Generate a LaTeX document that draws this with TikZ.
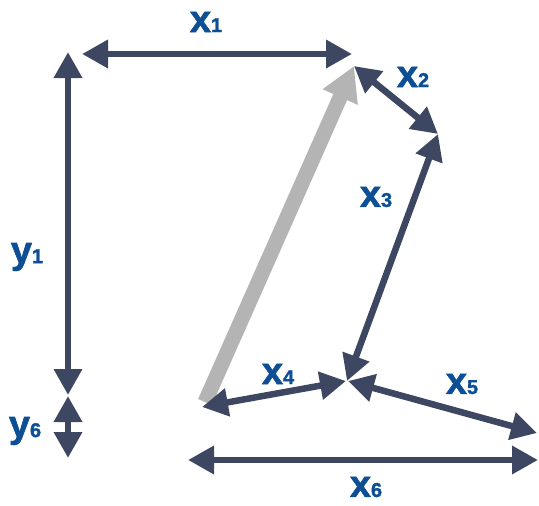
\documentclass[tikz,border=0pt]{standalone}
\usepackage{fontspec}
\setmainfont{Liberation Sans}
\newfontfamily\heavyfont[BoldFeatures={FakeBold=1.6}]{Liberation Sans}
\usetikzlibrary{arrows.meta}
\definecolor{arr}{HTML}{3D4762}
\definecolor{lbl}{HTML}{0D4F94}
\definecolor{gry}{HTML}{B4B4B4}
\newcommand\varlab[2]{{\heavyfont\bfseries\fontsize{38}{38}\selectfont #1}{\heavyfont\bfseries\fontsize{20}{20}\selectfont #2}}
\tikzset{
  dim/.style={draw=arr, line width=6.5pt, {Triangle[length=26pt,width=27pt]}-{Triangle[length=26pt,width=27pt]}},
  big/.style={draw=gry, line width=15pt, -{Triangle[length=34pt,width=36pt]}},
  lab/.style={text=lbl, inner sep=0pt, anchor=center}
}
\begin{document}
\begin{tikzpicture}[x=1pt,y=-1pt]
\useasboundingbox (0,0) rectangle (539,506);
% points
\coordinate (a1) at (82,54);
\coordinate (a2) at (352,54);
\coordinate (b1) at (68,52);
\coordinate (b2) at (68,395);
\coordinate (c1) at (68,396);
\coordinate (c2) at (68,458);
\coordinate (g1) at (205,402);
\coordinate (g2) at (354,66);
\coordinate (p1) at (354,66);
\coordinate (p2) at (438,134);
\coordinate (q1) at (438,134);
\coordinate (q2) at (347,381);
\coordinate (r1) at (202,407);
\coordinate (r2) at (346,381);
\coordinate (s1) at (348,381);
\coordinate (s2) at (537,433);
\coordinate (t1) at (188,460);
\coordinate (t2) at (538,460);
% grey arrow
\draw[big] (g1) -- (g2);
% dimension arrows
\draw[dim] (a1) -- (a2);
\draw[dim] (b1) -- (b2);
\draw[dim] (c1) -- (c2);
\draw[dim] (p1) -- (p2);
\draw[dim] (q1) -- (q2);
\draw[dim] (r1) -- (r2);
\draw[dim] (s1) -- (s2);
\draw[dim] (t1) -- (t2);
% labels
\node[lab] (lx1) at (206,22) {\varlab{x}{1}};
\node[lab] (lx2) at (413,77) {\varlab{x}{2}};
\node[lab] (lx3) at (376,197) {\varlab{x}{3}};
\node[lab] (lx4) at (278,374) {\varlab{x}{4}};
\node[lab] (lx5) at (462,384) {\varlab{x}{5}};
\node[lab] (lx6) at (366,487) {\varlab{x}{6}};
\node[lab] (ly1) at (27,257) {\varlab{y}{1}};
\node[lab] (ly6) at (25,431) {\varlab{y}{6}};
\end{tikzpicture}
\end{document}
